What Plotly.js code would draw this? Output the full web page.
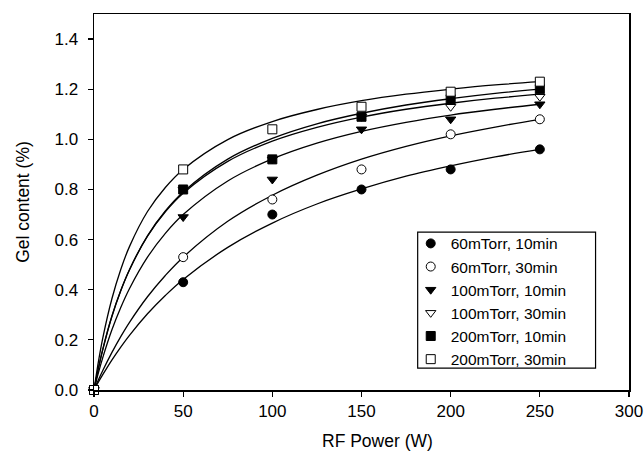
<!DOCTYPE html>
<html>
<head>
<meta charset="utf-8">
<script src="https://cdn.plot.ly/plotly-3.0.1.min.js"></script>
<style>html,body{margin:0;padding:0;background:#fff;}#chart{width:644px;height:457px;}</style>
</head>
<body>
<div id="chart"></div>
<script>
// Measured points
const powerW = [0, 50, 100, 150, 200, 250];
const seriesNames = ["60mTorr, 10min", "60mTorr, 30min", "100mTorr, 10min", "100mTorr, 30min", "200mTorr, 10min", "200mTorr, 30min"];
const gel60_10  = [0, 0.43, 0.70, 0.80, 0.88, 0.96];
const gel60_30  = [0, 0.53, 0.76, 0.88, 1.02, 1.08];
const gel100_10 = [0, 0.69, 0.84, 1.04, 1.08, 1.14];
const gel100_30 = [0, 0.80, 0.92, 1.09, 1.13, 1.17];
const gel200_10 = [0, 0.80, 0.92, 1.09, 1.16, 1.20];
const gel200_30 = [0, 0.88, 1.04, 1.13, 1.19, 1.23];

// Fitted curves
const curveX = [0, 2.5, 5, 10, 15, 20, 30, 40, 50, 75, 100, 125, 150, 175, 200, 225, 250];
const fit60_10  = [0, 0.032, 0.062, 0.119, 0.171, 0.219, 0.304, 0.377, 0.441, 0.569, 0.666, 0.742, 0.802, 0.853, 0.894, 0.930, 0.960];
const fit60_30  = [0, 0.041, 0.079, 0.149, 0.213, 0.271, 0.372, 0.457, 0.530, 0.673, 0.777, 0.857, 0.921, 0.972, 1.014, 1.049, 1.080];
const fit100_10 = [0, 0.069, 0.131, 0.239, 0.329, 0.406, 0.530, 0.625, 0.700, 0.834, 0.922, 0.985, 1.032, 1.068, 1.097, 1.120, 1.140];
const fit100_30 = [0, 0.088, 0.165, 0.294, 0.397, 0.482, 0.614, 0.711, 0.785, 0.912, 0.993, 1.048, 1.089, 1.120, 1.144, 1.164, 1.180];
const fit200_10 = [0, 0.087, 0.163, 0.292, 0.396, 0.481, 0.615, 0.714, 0.790, 0.921, 1.004, 1.062, 1.104, 1.137, 1.162, 1.183, 1.200];
const fit200_30 = [0, 0.114, 0.210, 0.363, 0.481, 0.574, 0.712, 0.808, 0.880, 0.999, 1.071, 1.119, 1.154, 1.180, 1.200, 1.217, 1.230];

const xTicks = [0, 50, 100, 150, 200, 250, 300];
const yTicks = [0, 0.2, 0.4, 0.6, 0.8, 1.0, 1.2, 1.4];

const pointSets = [gel60_10, gel60_30, gel100_10, gel100_30, gel200_10, gel200_30];
const fitSets = [fit60_10, fit60_30, fit100_10, fit100_30, fit200_10, fit200_30];
const symbols = ["circle", "circle", "triangle-down", "triangle-down", "square", "square"];
const filled = [true, false, true, false, true, false];

const traces = [];
fitSets.forEach(f => traces.push({
  x: curveX, y: f, mode: "lines", line: {color: "#000", width: 1.3, shape: "spline", smoothing: 1},
  showlegend: false, hoverinfo: "skip"
}));
pointSets.forEach((p, i) => traces.push({
  x: powerW, y: p, mode: "markers", name: seriesNames[i],
  marker: {symbol: symbols[i], size: 9, color: filled[i] ? "#000" : "#fff",
           line: {color: "#000", width: 1}},
  cliponaxis: false
}));

const font = {family: "Liberation Sans, Arial, sans-serif", color: "#000", size: 17};
const layout = {
  width: 644, height: 457,
  margin: {l: 94, r: 15, t: 14, b: 67},
  paper_bgcolor: "#fff", plot_bgcolor: "#fff",
  font: font,
  showlegend: true,
  xaxis: {
    range: [0, 300], tickvals: xTicks, ticktext: xTicks.map(String),
    showline: true, linecolor: "#000", linewidth: 1.5, mirror: true,
    ticks: "outside", ticklen: 5, tickwidth: 1.2, tickcolor: "#000",
    showgrid: false, zeroline: false,
    tickfont: {size: 17}
  },
  yaxis: {
    range: [0, 1.5], tickvals: yTicks, ticktext: yTicks.map(v => v.toFixed(1)),
    showline: true, linecolor: "#000", linewidth: 1.5, mirror: true,
    ticks: "outside", ticklen: 5, tickwidth: 1.2, tickcolor: "#000",
    showgrid: false, zeroline: false,
    tickfont: {size: 17}, ticklabelstandoff: 6,
    title: {text: "Gel content (%)", font: {size: 17.5}, standoff: 20}
  },
  annotations: [{
    text: "RF Power (W)", xref: "paper", yref: "paper", x: 0.53, y: -0.135,
    xanchor: "center", yanchor: "middle", showarrow: false, font: {size: 17.5}
  }],
  shapes: [{
    type: "rect", xref: "paper", yref: "paper", x0: 0.605, x1: 0.9375, y0: 0.058, y1: 0.42,
    line: {color: "#000", width: 1.2}, fillcolor: "#fff", layer: "above"
  }],
  legend: {
    x: 0.592, y: 0.434, xanchor: "left", yanchor: "top",
    borderwidth: 0, bgcolor: "rgba(0,0,0,0)",
    font: {size: 15.5}, itemwidth: 30, tracegroupgap: 0
  }
};
Plotly.newPlot("chart", traces, layout, {displayModeBar: false, staticPlot: true});
</script>
</body>
</html>
